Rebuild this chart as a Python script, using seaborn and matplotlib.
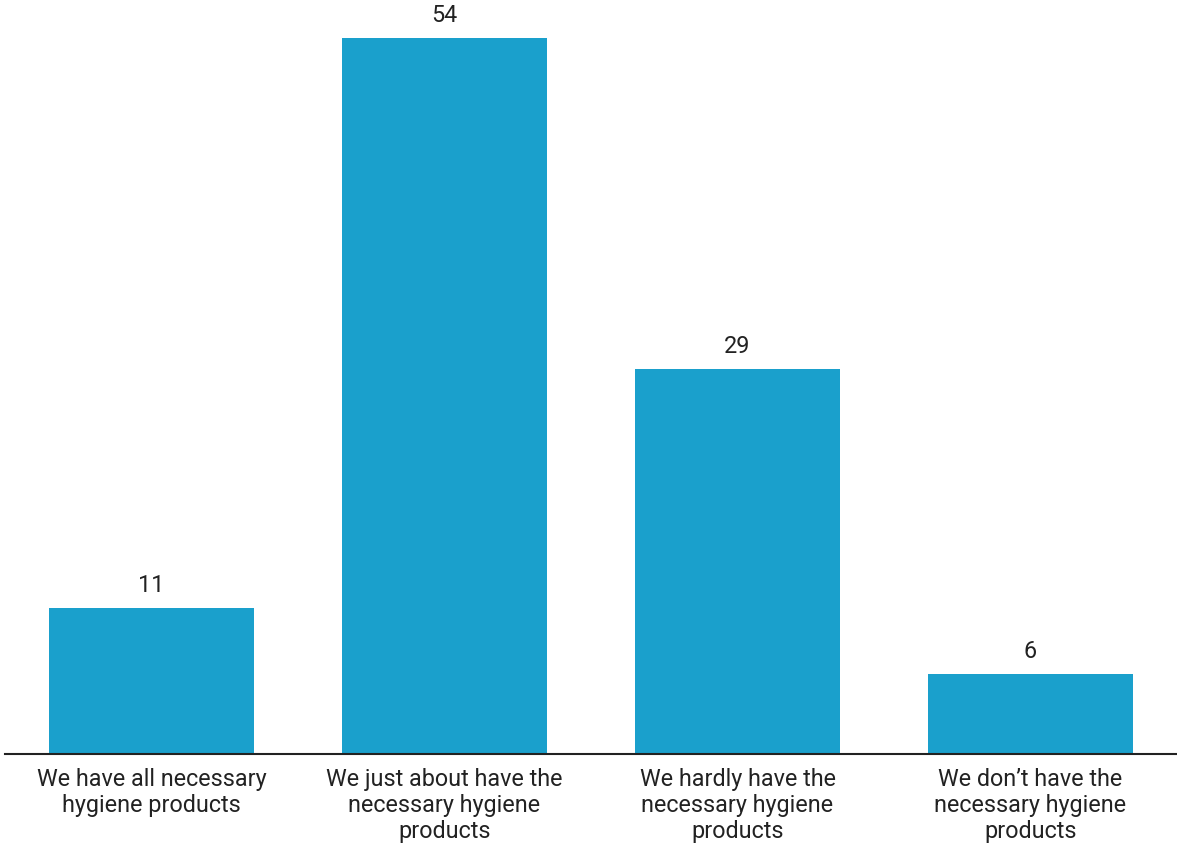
import matplotlib
matplotlib.use("Agg")
import matplotlib.pyplot as plt
import seaborn as sns
import pandas as pd

categories = [
    "We have all necessary\nhygiene products",
    "We just about have the\nnecessary hygiene\nproducts",
    "We hardly have the\nnecessary hygiene\nproducts",
    "We don\u2019t have the\nnecessary hygiene\nproducts",
]
values = [11, 54, 29, 6]

sns.set_theme(style="white")
plt.rcParams["font.family"] = ["Roboto", "DejaVu Sans"]

df = pd.DataFrame({"category": categories, "value": values})

fig = plt.figure(figsize=(11.77, 8.46), dpi=100)
ax = fig.add_axes([5 / 1177, 1 - 754 / 846, 1172 / 1177, 754 / 846])

sns.barplot(data=df, x="category", y="value", color="#1aa0cc", saturation=1,
            width=0.70, linewidth=0, ax=ax)

ax.set_xlim(-0.5, 3.5)
ax.set_ylim(0, 56.86)

for c in ax.containers:
    ax.bar_label(c, labels=[str(v) for v in values], padding=8,
                 fontsize=16.8, color="#222222")

for s in ["top", "left", "right"]:
    ax.spines[s].set_visible(False)
ax.spines["bottom"].set_color("#222222")
ax.spines["bottom"].set_linewidth(1.5)

ax.set_yticks([])
ax.set_xlabel("")
ax.set_ylabel("")
ax.tick_params(axis="x", length=0, pad=10, labelsize=16.8, labelcolor="#222222")
for lbl in ax.get_xticklabels():
    lbl.set_linespacing(1.18)

fig.savefig("out.png", dpi=100, facecolor="white")
